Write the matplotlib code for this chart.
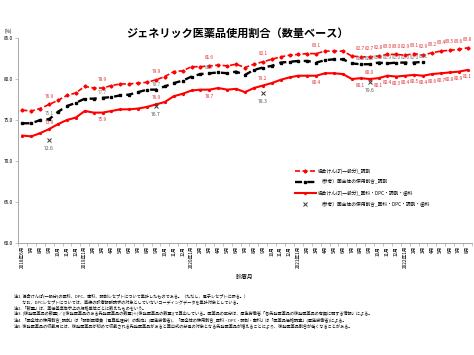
import matplotlib as mpl
mpl.use('Agg')
import matplotlib.pyplot as plt
import numpy as np

plt.rcParams['font.family'] = ['Noto Sans CJK JP', 'DejaVu Sans']

# month labels 2018-06 .. 2022-08
tick_labels = []
for i in range(51):
    yy = 2018 + (5 + i) // 12
    mm = (5 + i) % 12 + 1
    if i == 0 or mm == 1:
        tick_labels.append('%d年%d月' % (yy, mm))
    else:
        tick_labels.append('%d月' % mm)

kyokai_chozai = [76.2, 76.1, 76.4, 76.9, 77.4, 78.0, 78.3, 79.1, 78.9, 78.9,
                 79.2, 79.4, 79.4, 79.5, 79.6, 79.9, 80.3, 80.9, 81.0, 81.5,
                 81.5, 81.6, 81.7, 81.6, 81.8, 81.4, 81.8, 82.1, 82.4, 82.7,
                 82.9, 83.0, 83.1, 83.1, 83.4, 83.4, 83.4, 82.8, 82.7, 82.7,
                 82.8, 83.0, 83.0, 82.9, 83.1, 82.9, 83.2, 83.4, 83.5, 83.6,
                 83.8]
zenkoku_chozai = [74.6, 74.6, 75.0, 75.1, 76.0, 76.7, 77.1, 77.6, 77.6, 77.7,
                  77.8, 78.0, 78.1, 78.4, 78.7, 78.7, 79.1, 79.5, 79.8, 80.3,
                  80.6, 80.7, 80.8, 80.7, 80.9, 80.5, 81.1, 81.4, 81.6, 82.0,
                  82.1, 82.2, 82.2, 82.0, 82.3, 82.4, 82.4, 81.9, 81.8, 81.8,
                  82.0, 81.9, 82.0, 82.0, 82.0, 82.1]
kyokai_all = [73.1, 73.0, 73.4, 73.9, 74.5, 75.0, 75.3, 76.1, 75.9, 75.9,
              76.1, 76.3, 76.3, 76.4, 76.6, 76.9, 77.2, 77.9, 78.2, 78.6,
              78.7, 78.7, 78.9, 78.7, 78.8, 78.4, 78.9, 79.2, 79.5, 79.9,
              80.2, 80.4, 80.4, 80.4, 80.7, 80.7, 80.6, 80.0, 80.1, 80.0,
              80.1, 80.4, 80.3, 80.4, 80.5, 80.4, 80.6, 80.7, 80.8, 80.9,
              81.1]
zenkoku_all_idx = [3, 15, 27, 39]
zenkoku_all = [72.6, 76.7, 78.3, 79.6]

lab_red_dash = [3, 9, 15, 21, 27, 33] + list(range(38, 51))
lab_black = [3, 9, 15, 21] + list(range(38, 46))
lab_red_solid_up = [3, 15, 27, 39]
lab_red_solid_dn = [9, 21, 33, 38] + list(range(40, 51))

names = ['協会けんぽ(一般分)_調剤',
         '（参考）国全体の使用割合_調剤',
         '協会けんぽ(一般分)_医科・DPC・調剤・歯科',
         '（参考）国全体の使用割合_医科・DPC・調剤・歯科']

fig = plt.figure(figsize=(4.74, 3.55), dpi=100)
ax = fig.add_axes([18 / 474, 1 - 243 / 355, 454 / 474, 205 / 355])

x = np.arange(51)
red = '#FF0000'
ax.plot(x, kyokai_chozai, color=red, lw=1.2, dashes=(3, 1.5), marker='D', ms=1.6, label=names[0])
ax.plot(x[:len(zenkoku_chozai)], zenkoku_chozai, color='black', lw=1.7, dashes=(3, 2.2),
        marker='s', ms=2.0, label=names[1])
ax.plot(x, kyokai_all, color=red, lw=1.5, marker='o', ms=1.3, label=names[2])
ax.plot(zenkoku_all_idx, zenkoku_all, ls='none', marker='x', color='#333333', ms=3.5, mew=0.7, label=names[3])

fs = 3.4
for i in lab_red_dash:
    ax.annotate('%.1f' % kyokai_chozai[i], (i, kyokai_chozai[i]), xytext=(0, 6), textcoords='offset points',
                ha='center', va='center', fontsize=fs, color='#E03030')
for i in lab_black:
    ax.annotate('%.1f' % zenkoku_chozai[i], (i, zenkoku_chozai[i]), xytext=(0, 4), textcoords='offset points',
                ha='center', va='center', fontsize=fs, color='#777777')
for i in lab_red_solid_up:
    ax.annotate('%.1f' % kyokai_all[i], (i, kyokai_all[i]), xytext=(0, 5), textcoords='offset points',
                ha='center', va='center', fontsize=fs, color='#E03030')
for i in lab_red_solid_dn:
    ax.annotate('%.1f' % kyokai_all[i], (i, kyokai_all[i]), xytext=(0, -5), textcoords='offset points',
                ha='center', va='center', fontsize=fs, color='#E03030')
for i, v in zip(zenkoku_all_idx, zenkoku_all):
    ax.annotate('%.1f' % v, (i, v), xytext=(0, -6), textcoords='offset points',
                ha='center', va='center', fontsize=fs + 0.3, color='#555555')

ax.set_xlim(-0.5, 50.5)
ax.set_ylim(60, 85)
ax.set_yticks([60, 65, 70, 75, 80, 85])
ax.set_yticklabels(['%.1f' % v for v in [60, 65, 70, 75, 80, 85]], fontsize=fs)
ax.set_xticks(x)
ax.set_xticklabels(tick_labels, rotation=90, fontsize=fs)
ax.set_xticks(np.arange(-0.5, 51, 1), minor=True)
ax.tick_params(axis='x', which='major', length=0, pad=2)
ax.tick_params(axis='x', which='minor', length=2, width=0.4, color='#999999')
ax.tick_params(axis='y', length=2, width=0.4, color='#999999', pad=2)
for s in ['top', 'right']:
    ax.spines[s].set_visible(False)
for s in ['left', 'bottom']:
    ax.spines[s].set_color('#999999')
    ax.spines[s].set_linewidth(0.6)

ax.legend(loc='upper left', bbox_to_anchor=(0.6, 0.385), frameon=False, fontsize=3.4,
          handlelength=4.5, labelspacing=1.25, handletextpad=0.5)

fig.text(8 / 474, 1 - 31 / 355, '(%)', fontsize=3.4, ha='center', va='center')
fig.text(237 / 474, 1 - 33 / 355, 'ジェネリック医薬品使用割合（数量ベース）', fontsize=8,
         ha='center', va='center', fontweight='bold')
fig.text(245 / 474, 1 - 277 / 355, '診療月', fontsize=4.2, ha='center', va='center')

notes = [
    '注1. 協会けんぽ(一般分)の医科、DPC、歯科、調剤レセプトについて集計したものである。（ただし、電子レセプトに限る。）',
    '　　なお、DPCレセプトについては、直接の診療報酬請求の対象としていないコーディングデータを集計対象としている。',
    '注2. 「数量」は、薬価基準告示上の規格単位ごとに数えたものをいう。',
    '注3. [後発医薬品の数量]／([後発医薬品のある先発医薬品の数量]＋[後発医薬品の数量])で算出している。医薬品の区分は、厚生労働省「各先発医薬品の後発医薬品の有無に関する情報」による。',
    '注4. 「国全体の使用割合_調剤」は「調剤医療費（電算処理分）の動向」(厚生労働省)、「国全体の使用割合_医科・DPC・調剤・歯科」は「医薬品価格調査」(厚生労働省)による。',
    '注5. 後発医薬品の収載月には、後発医薬品が初めて収載される先発医薬品があると算出式の分母の対象となる先発医薬品が増えることにより、後発医薬品割合が低くなることがある。',
]
for k, t in enumerate(notes):
    fig.text(14 / 474, 1 - (296 + 6 * k) / 355, t, fontsize=3.0, ha='left', va='center')

fig.savefig('out.png', dpi=100)
